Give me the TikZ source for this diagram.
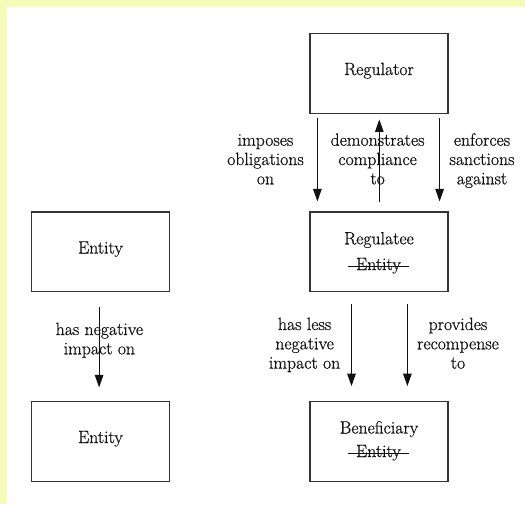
\documentclass[tikz,border=0pt]{standalone}
\usepackage{fontspec}
\usetikzlibrary{arrows.meta}
\newfontfamily\diafont{Latin Modern Roman}[FakeBold=0.6]
\definecolor{pagebg}{HTML}{F4FBB6}
\definecolor{ink}{HTML}{111111}
% centred stack of lines whose baseline is that of the first line
\newcommand\stk[1]{\begin{tabular}[t]{@{}c@{}}#1\end{tabular}}
\tikzset{
  box/.style={draw=ink!85, line width=1.1pt, minimum width=138pt,
              minimum height=79.6pt, inner sep=0pt},
  txt/.style={font=\diafont\fontsize{17.7}{19.3}\selectfont, anchor=base,
              inner sep=0pt, text=ink},
  flow/.style={draw=ink, line width=1pt, -{Triangle[length=12.5pt,width=8.5pt]}},
  strike/.style={draw=ink, line width=1pt},
}
\begin{document}
\begin{tikzpicture}[x=1pt,y=-1pt]
% page with its yellow edge
\fill[pagebg] (0,0) rectangle (525,504);
\fill[white] (7,7) rectangle (525,504);
\useasboundingbox (0,0) rectangle (525,504);

% boxes
\node[box] (reg) at (379,73.3) {};
\node[box] (ree) at (379,251.8) {};
\node[box] (ben) at (379,441.5) {};
\node[box] (ea) at (100.5,251.8) {};
\node[box] (eb) at (100.5,441.5) {};

% box texts
\node[txt] (regT) at (379,75) {Regulator};
\node[txt] (reeT) at (379,244.3) {Regulatee};
\node[txt] (reeX) at (378.5,270) {Entity};
\node[txt] (benT) at (379,433.5) {Beneficiary};
\node[txt] (benX) at (378.5,457) {Entity};
\node[txt] (eaT) at (100.5,253.5) {Entity};
\node[txt] (ebT) at (100.5,443) {Entity};

% struck-out words
\draw[strike] ([shift={(-8pt,4pt)}]reeX.base west) -- ([shift={(8pt,4pt)}]reeX.base east);
\draw[strike] ([shift={(-8pt,4pt)}]benX.base west) -- ([shift={(8pt,4pt)}]benX.base east);

% relation labels
\node[txt] (l1) at (265.5,145.7) {\stk{imposes\\obligations\\on}};
\node[txt] (l2) at (377.6,145.7) {\stk{demonstrates\\compliance\\to}};
\node[txt] (l3) at (482,145.7) {\stk{enforces\\sanctions\\against}};
\node[txt] (l4) at (304.6,330) {\stk{has less\\negative\\impact on}};
\node[txt] (l5) at (458,330) {\stk{provides\\recompense\\to}};
\node[txt] (l6) at (99.4,335) {\stk{has negative\\impact on}};

% relations
\draw[flow, shorten <=4.8pt, shorten >=10pt] ([xshift=-61.6pt]reg.south) -- ([xshift=-61.6pt]ree.north);
\draw[flow, shorten <=9.5pt, shorten >=5.8pt] ([xshift=0.3pt]ree.north) -- ([xshift=0.3pt]reg.south);
\draw[flow, shorten <=4.8pt, shorten >=10pt] ([xshift=60.6pt]reg.south) -- ([xshift=60.6pt]ree.north);
\draw[flow, shorten <=12pt, shorten >=15pt] ([xshift=-27.5pt]ree.south) -- ([xshift=-27.5pt]ben.north);
\draw[flow, shorten <=12pt, shorten >=15pt] ([xshift=28.4pt]ree.south) -- ([xshift=28.4pt]ben.north);
\draw[flow, shorten <=14.4pt, shorten >=13.7pt] ([xshift=-1.4pt]ea.south) -- ([xshift=-1.4pt]eb.north);
\end{tikzpicture}
\end{document}
